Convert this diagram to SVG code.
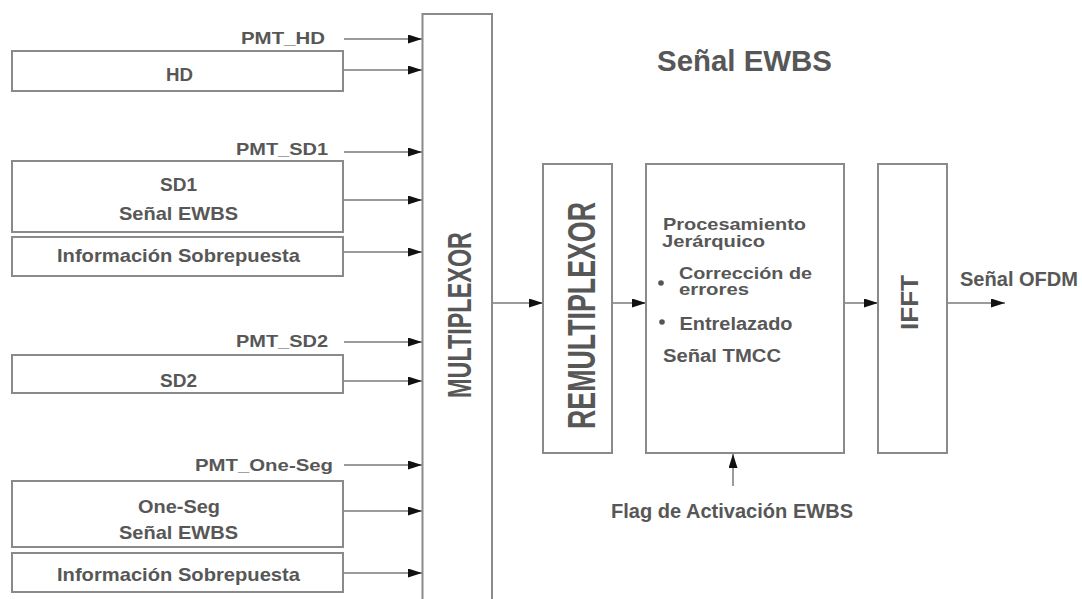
<svg xmlns="http://www.w3.org/2000/svg" width="1082" height="599" viewBox="0 0 1082 599">
  <defs>
    <style>
      .box { fill: #ffffff; stroke: #8a8a8a; stroke-width: 2; }
      .wire { fill: none; stroke: #7a7a7a; stroke-width: 1.5; }
      .t { font-family: "Liberation Sans", Arial, sans-serif; font-weight: bold; fill: #575757; }
      .lbl { font-size: 17px; }
      .bx { font-size: 19px; text-anchor: middle; }
      .in { font-size: 18px; }
      .tight { font-size: 16.5px; }
      .dot { fill: #555555; }
    </style>
    <marker id="arrow" viewBox="0 0 14 9" refX="14" refY="4.5" markerWidth="14" markerHeight="9" markerUnits="userSpaceOnUse" orient="auto">
      <path d="M0,0 L14,4.5 L0,9 Z" fill="#111111"/>
    </marker>
  </defs>

  <rect width="1082" height="599" fill="#ffffff"/>

  <!-- connectors -->
  <g id="connectors" class="wire" marker-end="url(#arrow)">
    <line x1="344" y1="39" x2="422" y2="39"/>
    <line x1="343" y1="70" x2="422" y2="70"/>
    <line x1="344" y1="152" x2="422" y2="152"/>
    <line x1="343" y1="200" x2="422" y2="200"/>
    <line x1="343" y1="252" x2="422" y2="252"/>
    <line x1="344" y1="342" x2="422" y2="342"/>
    <line x1="343" y1="381" x2="422" y2="381"/>
    <line x1="344" y1="465" x2="422" y2="465"/>
    <line x1="343" y1="511" x2="422" y2="511"/>
    <line x1="343" y1="573" x2="422" y2="573"/>
    <line x1="492" y1="303" x2="543" y2="303"/>
    <line x1="612" y1="303" x2="646" y2="303"/>
    <line x1="844" y1="303" x2="878" y2="303"/>
    <line x1="947" y1="303" x2="1005" y2="303"/>
    <line x1="733" y1="486" x2="733" y2="454"/>
  </g>

  <!-- input labels -->
  <g id="pmt-labels" class="t lbl">
    <text x="241" y="44" textLength="84" lengthAdjust="spacingAndGlyphs">PMT_HD</text>
    <text x="236" y="155" textLength="92" lengthAdjust="spacingAndGlyphs">PMT_SD1</text>
    <text x="236" y="347" textLength="92" lengthAdjust="spacingAndGlyphs">PMT_SD2</text>
    <text x="195" y="471" textLength="138" lengthAdjust="spacingAndGlyphs">PMT_One-Seg</text>
  </g>

  <g id="hd">
    <rect class="box" x="12" y="51" width="331" height="40"/>
    <text class="t bx" x="179.5" y="81" textLength="27" lengthAdjust="spacingAndGlyphs">HD</text>
  </g>

  <g id="sd1">
    <rect class="box" x="12" y="161" width="331" height="71"/>
    <text class="t bx" x="178.5" y="191" textLength="37" lengthAdjust="spacingAndGlyphs">SD1</text>
    <text class="t bx" x="178.5" y="220" textLength="119" lengthAdjust="spacingAndGlyphs">Señal EWBS</text>
  </g>

  <g id="info-sd1">
    <rect class="box" x="12" y="237" width="331" height="39"/>
    <text class="t bx" x="178.5" y="262" textLength="243" lengthAdjust="spacingAndGlyphs">Información Sobrepuesta</text>
  </g>

  <g id="sd2">
    <rect class="box" x="12" y="355" width="331" height="38"/>
    <text class="t bx" x="178.5" y="387" textLength="37" lengthAdjust="spacingAndGlyphs">SD2</text>
  </g>

  <g id="oneseg">
    <rect class="box" x="12" y="481" width="331" height="66"/>
    <text class="t bx" x="179" y="513" textLength="82" lengthAdjust="spacingAndGlyphs">One-Seg</text>
    <text class="t bx" x="178.5" y="539" textLength="119" lengthAdjust="spacingAndGlyphs">Señal EWBS</text>
  </g>

  <g id="info-oneseg">
    <rect class="box" x="12" y="553" width="331" height="39"/>
    <text class="t bx" x="178.5" y="581" textLength="243" lengthAdjust="spacingAndGlyphs">Información Sobrepuesta</text>
  </g>

  <!-- multiplexer column, open at the bottom edge -->
  <g id="multiplexor">
    <rect class="box" x="422.5" y="14" width="69.5" height="620"/>
    <text class="t" font-size="33" text-anchor="middle" transform="translate(471 315) rotate(-90)" textLength="166" lengthAdjust="spacingAndGlyphs">MULTIPLEXOR</text>
  </g>

  <g id="title">
    <text class="t" x="657" y="71" font-size="29" textLength="175" lengthAdjust="spacingAndGlyphs">Señal EWBS</text>
  </g>

  <g id="remultiplexor">
    <rect class="box" x="543" y="164" width="69" height="289"/>
    <text class="t" font-size="38" text-anchor="middle" transform="translate(595 315.5) rotate(-90)" textLength="227" lengthAdjust="spacingAndGlyphs">REMULTIPLEXOR</text>
  </g>

  <g id="procesamiento">
    <rect class="box" x="646" y="164" width="198" height="289"/>
    <text class="t tight" x="663" y="230" textLength="143" lengthAdjust="spacingAndGlyphs">Procesamiento</text>
    <text class="t tight" x="662" y="247" textLength="103" lengthAdjust="spacingAndGlyphs">Jerárquico</text>
    <circle class="dot" cx="661" cy="283" r="2.8"/>
    <text class="t tight" x="679" y="279" textLength="133" lengthAdjust="spacingAndGlyphs">Corrección de</text>
    <text class="t tight" x="679" y="295" textLength="70" lengthAdjust="spacingAndGlyphs">errores</text>
    <circle class="dot" cx="662" cy="322" r="2.8"/>
    <text class="t in" x="679.5" y="330" textLength="113" lengthAdjust="spacingAndGlyphs">Entrelazado</text>
    <text class="t in" x="663" y="362" textLength="118" lengthAdjust="spacingAndGlyphs">Señal TMCC</text>
  </g>

  <g id="ifft">
    <rect class="box" x="878" y="164" width="69" height="289"/>
    <text class="t" font-size="24" text-anchor="middle" transform="translate(918 302.5) rotate(-90)" textLength="55" lengthAdjust="spacingAndGlyphs">IFFT</text>
  </g>

  <g id="salida">
    <text class="t" x="960" y="286" font-size="20" textLength="118" lengthAdjust="spacingAndGlyphs">Señal OFDM</text>
  </g>

  <g id="flag">
    <text class="t" x="611" y="518" font-size="20" textLength="242" lengthAdjust="spacingAndGlyphs">Flag de Activación EWBS</text>
  </g>
</svg>
